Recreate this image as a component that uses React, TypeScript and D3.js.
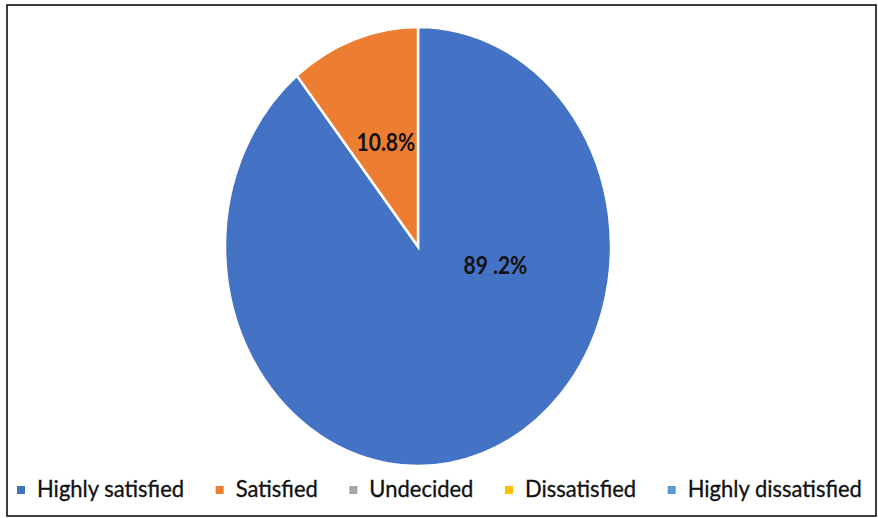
import React, { useEffect, useRef } from "react";
import * as d3 from "d3";

const categories = ["Highly satisfied", "Satisfied", "Undecided", "Dissatisfied", "Highly dissatisfied"];
const values = [89.2, 10.8, 0, 0, 0];
const labels = ["89 .2%", "10.8%", "", "", ""];
const colors = ["#4472C4", "#ED7D31", "#A5A5A5", "#FFC000", "#5B9BD5"];

const W = 878;
const H = 518;
const CX = 418;
const CY = 246.5;
const RX = 193;
const RY = 219.5;
const STRETCH = RY / RX;
// manual label placement (angle in degrees from top, fraction of radius); null -> centroid
const labelPlacement: ({ angle: number; frac: number } | null)[] = [
  { angle: 102, frac: 0.41 },
  null,
  null,
  null,
  null,
];

export default function App() {
  const ref = useRef<SVGSVGElement | null>(null);

  useEffect(() => {
    const svg = d3.select(ref.current);
    svg.selectAll("*").remove();

    svg
      .append("rect")
      .attr("x", 7)
      .attr("y", 5)
      .attr("width", 869)
      .attr("height", 511)
      .attr("fill", "#fff")
      .attr("stroke", "#000")
      .attr("stroke-width", 1.5);

    const data = categories.map((c, i) => ({ c, v: values[i], color: colors[i], label: labels[i], i }));
    const pie = d3
      .pie<any>()
      .sort(null)
      .value((d) => d.v)
      .startAngle(0)
      .endAngle(2 * Math.PI);
    const arcs = pie(data).filter((a) => a.data.v > 0);
    const arc = d3.arc<any>().innerRadius(0).outerRadius(RX);

    const g = svg.append("g").attr("transform", `translate(${CX},${CY}) scale(1,${STRETCH})`);
    g.selectAll("path")
      .data(arcs)
      .join("path")
      .attr("d", arc as any)
      .attr("fill", (d) => d.data.color)
      .attr("stroke", "#fff")
      .attr("stroke-width", 2.5)
      .attr("vector-effect", "non-scaling-stroke");

    // labels
    arcs.forEach((a) => {
      const p = labelPlacement[a.data.i];
      let x: number, y: number;
      if (p) {
        const ang = (p.angle * Math.PI) / 180;
        x = Math.sin(ang) * RX * p.frac;
        y = -Math.cos(ang) * RX * p.frac;
      } else {
        [x, y] = arc.centroid(a);
      }
      svg
        .append("text")
        .attr("transform", `translate(${CX + x},${CY + y * STRETCH}) scale(1,${STRETCH})`)
        .attr("text-anchor", "middle")
        .attr("dy", "0.35em")
        .attr("font-family", "Lato, 'Open Sans', sans-serif")
        .attr("font-weight", "bold")
        .attr("font-size", 21)
        .attr("fill", "#111")
        .text(a.data.label);
    });

    // legend
    const legY = 497;
    const startX = 17;
    const endX = 862;
    const mk = 8;
    const mGap = 12;
    const items = data.map((d) => {
      const gi = svg.append("g");
      const t = gi
        .append("text")
        .attr("font-family", "Lato, 'Open Sans', sans-serif")
        .attr("font-size", 22)
        .attr("fill", "#111")
        .attr("stroke", "#111")
        .attr("stroke-width", 0.3)
        .text(d.c);
      const w = (t.node() as SVGTextElement).getComputedTextLength();
      return { gi, t, w, d };
    });
    const totalW = items.reduce((s, it) => s + mk + mGap + it.w, 0);
    const gap = (endX - startX - totalW) / (items.length - 1);
    let x = startX;
    items.forEach((it) => {
      it.gi
        .append("rect")
        .attr("x", x)
        .attr("y", legY - 11)
        .attr("width", mk)
        .attr("height", mk)
        .attr("fill", it.d.color);
      it.t.attr("transform", `translate(${x + mk + mGap},${legY}) scale(1,1.05)`);
      x += mk + mGap + it.w + gap;
    });
  }, []);

  return (
    <div style={{ position: "absolute", left: 0, top: 0 }}>
      <svg ref={ref} width={W} height={H} style={{ display: "block", background: "#fff" }} />
    </div>
  );
}
